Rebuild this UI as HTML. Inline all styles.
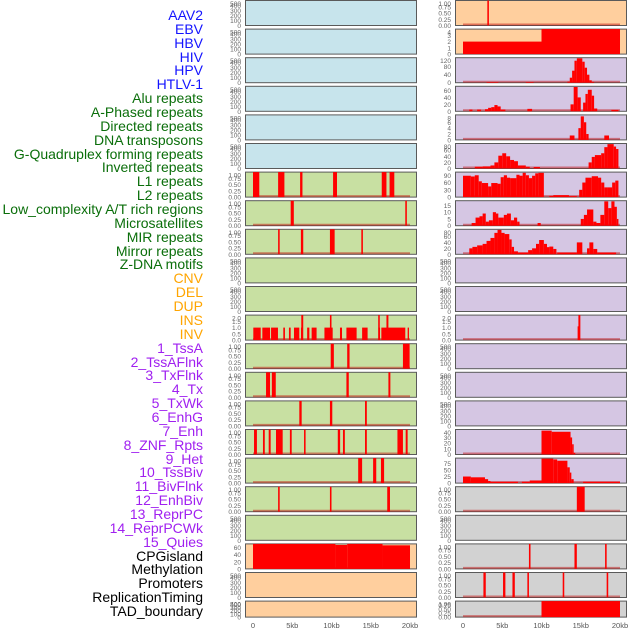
<!DOCTYPE html>
<html><head><meta charset="utf-8">
<style>
html,body{margin:0;padding:0;background:#fff;}
#wrap{position:relative;width:630px;height:630px;overflow:hidden;}
.lab{position:absolute;right:427px;font-family:"Liberation Sans",sans-serif;font-size:14px;line-height:14px;white-space:nowrap;}
svg{position:absolute;left:0;top:0;}
</style></head><body>
<div id="wrap">
<div id="labels"></div>
<svg id="chart" width="630" height="630"></svg>
</div>
<script>
// ---------- data ----------
const trackLabels = ["AAV2","EBV","HBV","HIV","HPV","HTLV-1","Alu repeats","A-Phased repeats","Directed repeats","DNA transposons","G-Quadruplex forming repeats","Inverted repeats","L1 repeats","L2 repeats","Low_complexity A/T rich regions","Microsatellites","MIR repeats","Mirror repeats","Z-DNA motifs","CNV","DEL","DUP","INS","INV","1_TssA","2_TssAFlnk","3_TxFlnk","4_Tx","5_TxWk","6_EnhG","7_Enh","8_ZNF_Rpts","9_Het","10_TssBiv","11_BivFlnk","12_EnhBiv","13_ReprPC","14_ReprPCWk","15_Quies","CPGisland","Methylation","Promoters","ReplicationTiming","TAD_boundary"];
const labelGroups = [6,13,5,15,5];
const groupColors = ["#1414ff","#0a6e0a","#ffa500","#a020f0","#000000"];
const xTicks = [0,5,10,15,20];
const xTickLabels = ["0","5kb","10kb","15kb","20kb"];
const emptyTicks = [0,100,200,300,400,500];
const binTicks = [0,0.25,0.5,0.75,1];
const left7 = [[0,0.8,1],[3.2,4.0,1],[6.0,6.3,1],[10.2,10.7,1],[16.4,17.0,1],[17.4,18.0,1]];
const left8 = [[4.8,5.2,1],[19.4,19.6,1]];
const left9 = [[3.2,3.4,1],[6.1,6.4,1],[9.8,10.4,1],[13.8,14.0,1]];
const left12 = [[0.04,0.98,1],[1.19,2.17,1],[2.3,3.18,1],[3.86,4.07,1],[4.58,4.8,1],[5.22,5.9,1],[6.11,6.37,1],[6.9,7.18,1],[7.47,8.1,1],[9.1,10.15,1],[11.08,11.34,1],[11.9,13.2,1],[13.9,14.6,1],[15.97,16.18,1],[16.35,19.4,1],[19.7,19.87,1],[6.15,6.4,2],[9.8,10.0,2],[15.95,16.15,2],[17.0,17.25,2]];
const left13 = [[9.9,10.3,1],[12.0,12.3,1],[19.1,19.95,1]];
const left14 = [[1.66,2.17,1],[2.4,2.9,1],[11.9,12.2,1],[17.25,17.5,1]];
const left15 = [[5.9,6.2,1],[9.8,10.1,1],[14.27,14.5,1]];
const left16 = [[0.13,0.5,1],[1.27,1.5,1],[2.0,2.25,1],[2.93,3.78,1],[4.7,4.93,1],[6.5,6.7,1],[10.8,11.1,1],[11.46,11.7,1],[14.27,14.5,1],[18.4,19.1,1],[19.45,19.7,1]];
const left17 = [[13.4,13.9,1],[15.3,15.7,1],[16.3,16.7,1]];
const left18 = [[3.2,3.4,1],[9.8,10.0,1],[17.1,17.45,1]];
const cpgSegs = [[0,10.5,70],[10.5,12,67],[12,16.5,70],[16.5,20,66]];
const aavSegs = [[3.1,3.3,1]];
const ebvSegs = [[0,10,2],[10,20,4]];
const hivSegs = [[3,4.5,3],[8,9,3],[13.3,13.6,5],[13.6,13.9,25],[13.9,14.2,60],[14.2,14.5,110],[14.5,15.2,122],[15.2,15.5,105],[15.5,15.8,75],[15.8,16.1,40],[16.1,16.4,12],[16.4,16.7,4]];
const aluSegs = [[0.8,1.2,5],[1.8,2.3,5],[2.8,3.2,6],[3.2,3.6,10],[3.6,4.0,12],[4.0,4.4,18],[4.4,4.8,14],[4.8,5.4,5],[8.2,8.8,7],[13.7,14.1,20],[14.1,14.6,70],[14.6,15.0,40],[15.3,15.6,25],[15.6,15.9,50],[15.9,16.4,62],[16.4,16.7,45],[16.7,17.1,8],[18.9,19.8,4]];
const hpvSegs = [[13.6,14.2,1.5],[14.7,15.0,4],[15.0,15.4,8],[15.4,15.7,6],[15.7,16.0,2],[18.0,18.6,1.5]];
const gquadSegs = [[1.5,2.5,6],[2.5,3.5,7],[3.5,4.0,10],[4.0,4.5,20],[4.5,5.0,42],[5.0,5.5,50],[5.5,6.0,40],[6.0,6.5,28],[6.5,7.0,24],[7.0,8.0,10],[8.0,8.5,6],[9.0,9.8,5],[16.0,16.4,20],[16.4,16.8,38],[16.8,17.6,44],[17.6,18.0,50],[18.0,18.4,70],[18.4,19.2,80],[19.2,19.5,72],[19.5,19.8,64]];
const l1Segs = [[0,1,88],[1,1.5,85],[1.5,2.0,90],[2.0,2.4,65],[2.4,3.2,58],[3.2,3.6,44],[3.6,4.4,58],[4.4,4.8,55],[4.8,5.2,82],[5.2,5.6,90],[5.6,6.0,80],[6.0,6.8,78],[6.8,7.2,92],[7.2,7.6,88],[7.6,8.0,100],[8.0,8.4,90],[8.4,8.8,78],[8.8,9.2,88],[9.2,9.6,98],[9.6,10.3,100],[11,11.5,5],[11.5,13.5,8],[13.5,14.5,4],[14.8,15.2,30],[15.2,15.6,60],[15.6,16.4,80],[16.4,17.2,86],[17.2,17.6,80],[17.6,18.0,60],[18.0,18.4,40],[18.4,19.0,40],[19.0,19.4,60],[19.4,19.8,68]];
const l2Segs = [[1.1,1.6,2],[1.6,2.1,6],[2.1,2.5,7],[2.5,2.9,9],[2.9,3.3,3],[3.3,3.8,4],[3.8,4.2,10],[4.2,4.5,9],[4.5,5.2,6],[5.2,5.6,8],[5.6,6.1,9],[6.1,6.5,4],[6.5,6.9,6],[6.9,7.2,3],[9.5,9.9,2],[15.0,15.4,5],[15.4,15.8,8],[15.8,16.6,12],[16.6,17.0,3],[17.0,17.5,2],[17.5,18.0,8],[18.0,18.5,18],[18.5,18.9,13],[18.9,19.3,18],[19.3,19.6,14],[19.6,19.8,5]];
const microSegs = [[0.8,1.2,20],[1.2,1.8,25],[1.8,2.5,30],[2.5,3.0,35],[3.0,3.5,45],[3.5,4.0,55],[4.0,4.4,72],[4.4,4.9,82],[4.9,5.3,72],[5.3,5.9,68],[5.9,6.2,50],[6.2,6.5,25],[6.5,7.0,10],[7.0,8.3,6],[8.3,8.8,14],[8.8,9.3,20],[9.3,9.7,35],[9.7,10.3,48],[10.3,10.7,35],[10.7,11.0,24],[11.0,11.5,26],[11.5,11.9,18],[12.0,14.5,6],[14.5,15.2,40],[15.8,16.1,20],[16.1,16.6,40],[16.6,17.1,18],[17.1,19.5,6]];
const insSegs = [[14.6,14.9,1.1],[14.7,14.95,2]];
const enh7Segs = [[10,11.3,42],[11.3,13.7,40],[13.7,13.9,30],[13.9,14.1,18],[14.1,14.3,3]];
const het9Segs = [[0,1,25],[1,2.8,22],[2.8,3.2,15],[3.2,3.5,8],[3.5,7,5],[7.5,8.5,5],[8.5,10,10],[10,11.5,93],[11.5,12,90],[12,13.3,85],[13.3,13.6,60],[13.6,13.8,40],[13.8,14.1,15],[15.3,20,5]];
const tssBivSegs = [[14.5,15.5,1]];
const cpgRightSegs = [[8.4,8.6,1],[14.2,14.5,1],[18.1,18.3,1]];
const promoterSegs = [[2.6,2.9,1],[5.1,5.4,1],[6.3,6.6,1],[8.2,8.4,1],[12.7,12.9,1],[18.3,18.5,1]];
const tadSegs = [[10,20,1]];

const BLUE="#c7e4ec", GREEN="#c8e0a2", ORANGE="#ffcf9e", PURPLE="#d5c6e3", GRAY="#d2d2d2";
const panels = [
 [0,0,BLUE,500,emptyTicks,0,[],"aav2-left"],[1,0,ORANGE,1,binTicks,2,aavSegs,"aav2-right"],
 [0,1,BLUE,500,emptyTicks,0,[],"ebv-left"],[1,1,ORANGE,4,[0,1,2,3,4],0,ebvSegs,"ebv-right"],
 [0,2,BLUE,500,emptyTicks,0,[],"hbv-left"],[1,2,PURPLE,125,[0,40,80,120],0,hivSegs,"hiv-right"],
 [0,3,BLUE,500,emptyTicks,0,[],"hiv-left"],[1,3,PURPLE,72,[0,20,40,60],0,aluSegs,"alu-right"],
 [0,4,BLUE,500,emptyTicks,0,[],"hpv-left"],[1,4,PURPLE,8.5,[0,2,4,6,8],0,hpvSegs,"hpv-right"],
 [0,5,BLUE,500,emptyTicks,0,[],"htlv-left"],[1,5,PURPLE,82,[0,20,40,60,80],0,gquadSegs,"gquad-right"],
 [0,6,GREEN,1,binTicks,2,left7,"l1-left"],[1,6,PURPLE,103,[0,30,60,90],0,l1Segs,"l1-right"],
 [0,7,GREEN,1,binTicks,2,left8,"l2-left"],[1,7,PURPLE,18.5,[0,5,10,15],0,l2Segs,"l2-right"],
 [0,8,GREEN,1,binTicks,2,left9,"mir-left"],[1,8,PURPLE,84,[0,20,40,60,80],0,microSegs,"micro-right"],
 [0,9,GREEN,500,emptyTicks,0,[],"zdna-left"],[1,9,PURPLE,500,emptyTicks,0,[],"cnv-right"],
 [0,10,GREEN,500,emptyTicks,0,[],"cnv-left"],[1,10,PURPLE,500,emptyTicks,0,[],"del-right"],
 [0,11,GREEN,2,[0,0.5,1,1.5,2],1,left12,"ins-left"],[1,11,PURPLE,2,[0,0.5,1,1.5,2],1,insSegs,"ins-right"],
 [0,12,GREEN,1,binTicks,2,left13,"tssa-left"],[1,12,PURPLE,500,emptyTicks,0,[],"tssa-right"],
 [0,13,GREEN,1,binTicks,2,left14,"txflnk-left"],[1,13,PURPLE,500,emptyTicks,0,[],"tx-right"],
 [0,14,GREEN,1,binTicks,2,left15,"txwk-left"],[1,14,PURPLE,500,emptyTicks,0,[],"enhg-right"],
 [0,15,GREEN,1,binTicks,2,left16,"enh-left"],[1,15,PURPLE,44,[0,10,20,30,40],0,enh7Segs,"enh-right"],
 [0,16,GREEN,1,binTicks,2,left17,"het-left"],[1,16,PURPLE,95,[0,25,50,75],0,het9Segs,"het-right"],
 [0,17,GREEN,1,binTicks,2,left18,"bivflnk-left"],[1,17,GRAY,1,binTicks,2,tssBivSegs,"bivflnk-right"],
 [0,18,GREEN,500,emptyTicks,0,[],"reprpc-left"],[1,18,GRAY,500,emptyTicks,0,[],"reprpc-right"],
 [0,19,ORANGE,70,[0,20,40,60],0,cpgSegs,"cpg-left"],[1,19,GRAY,1,binTicks,2,cpgRightSegs,"cpg-right"],
 [0,20,ORANGE,500,emptyTicks,0,[],"promoters-left"],[1,20,GRAY,1,binTicks,2,promoterSegs,"promoters-right"],
 [0,21,ORANGE,500,emptyTicks,0,[],"tad-left"],[1,21,GRAY,1,binTicks,2,tadSegs,"tad-right"]
];

const labDiv=document.getElementById('labels');
let gi=0, cnt=0;
trackLabels.forEach((t,i)=>{
  const d=document.createElement('div');
  d.className='lab';
  d.textContent=t;
  d.style.top=(15+i*13.86-7)+'px';
  d.style.color=groupColors[gi];
  
  
  labDiv.appendChild(d);
  cnt++; if(cnt>=labelGroups[gi]){gi++;cnt=0;}
});

const NS="http://www.w3.org/2000/svg";
const svg=document.getElementById('chart');
const colLeft=[245,455], PW=171;
function el(tag,attrs){const e=document.createElementNS(NS,tag);for(const k in attrs)e.setAttribute(k,attrs[k]);return e;}
function xScale(col,kb){return colLeft[col]+8+kb/20*157;}
panels.forEach(p=>{
  const [col,row,bg,ymax,ticks,dig,segs,name]=p;
  const top=0.5+row*28.6;
  const h=row===21?16:25;
  const bottom=top+h;
  const yS=v=>bottom-v/ymax*h;
  const g=el('g',{});
  
  
  const r=el('rect',{x:colLeft[col]+0.5,y:top,width:PW,height:h,fill:bg,stroke:'#5a5a5a','stroke-width':1});
  
  
  g.appendChild(r);
  if(segs.length){
    const base=el('line',{x1:xScale(col,0),x2:xScale(col,20),y1:bottom-1,y2:bottom-1,stroke:'rgba(190,0,0,0.45)','stroke-width':2});
    
    
    g.appendChild(base);
  }
  segs.forEach(s=>{
    const x1=xScale(col,s[0]), x2=xScale(col,s[1]);
    const y=Math.max(top,yS(s[2]));
    const b=el('rect',{x:x1,y:y,width:Math.max(1.2,x2-x1),height:bottom-y,fill:'#ff0000'});
    
    
    g.appendChild(b);
  });
  ticks.forEach(t=>{
    const tx=el('text',{x:colLeft[col]-4,y:Math.min(bottom,Math.max(top+3,yS(t)))+2.5,'font-size':6.5,'text-anchor':'end',fill:'#666','font-family':'Liberation Sans, sans-serif'});
    tx.textContent=t.toFixed(dig);
    
    
    g.appendChild(tx);
  });
  svg.appendChild(g);
});
[0,1].forEach(col=>{
  xTicks.forEach((v,i)=>{
    const tx=el('text',{x:xScale(col,v),y:628,'font-size':7.5,'text-anchor':'middle',fill:'#555','font-family':'Liberation Sans, sans-serif'});
    tx.textContent=xTickLabels[i];
    
    
    svg.appendChild(tx);
  });
});
</script>
</body></html>
